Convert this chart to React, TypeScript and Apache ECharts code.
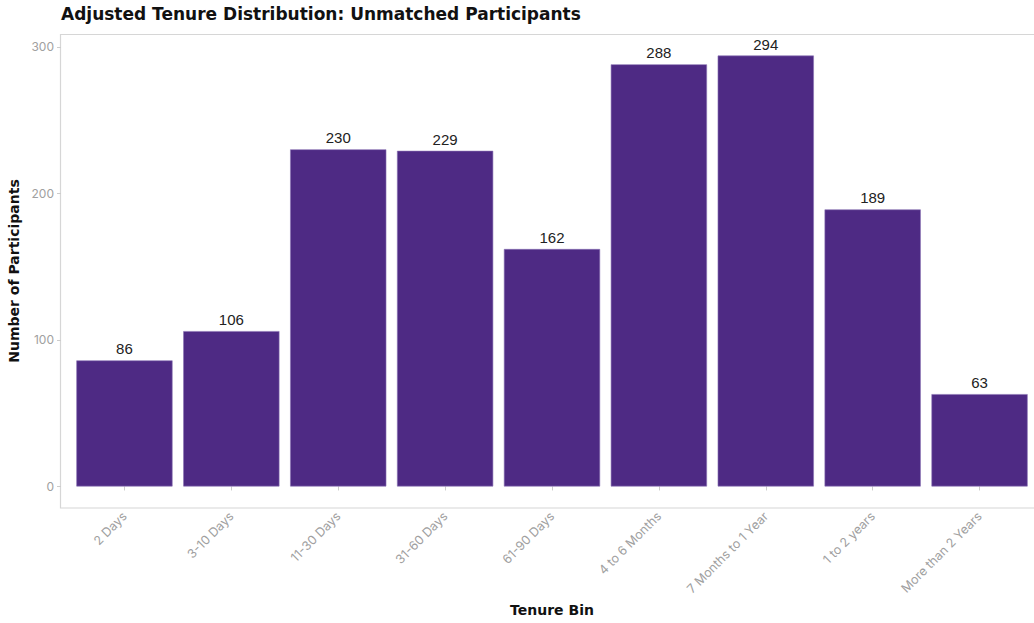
import React, { useEffect, useRef } from "react";
import * as echarts from "echarts";

const categories = [
  "2 Days",
  "3-10 Days",
  "11-30 Days",
  "31-60 Days",
  "61-90 Days",
  "4 to 6 Months",
  "7 Months to 1 Year",
  "1 to 2 years",
  "More than 2 Years",
];
const participants = [86, 106, 230, 229, 162, 288, 294, 189, 63];
const yTicks = [0, 100, 200, 300];

const TITLE = "Adjusted Tenure Distribution: Unmatched Participants";
const X_NAME = "Tenure Bin";
const Y_NAME = "Number of Participants";

export default function App() {
  const ref = useRef<HTMLDivElement>(null);
  useEffect(() => {
    document.body.style.margin = "0";
    if (!ref.current) return;
    const chart = echarts.init(ref.current, null, { renderer: "svg" });
    const yMin = -14.7;
    const yMax = 308.7;
    chart.setOption({
      animation: false,
      backgroundColor: "#ffffff",
      title: {
        text: TITLE,
        left: 61,
        top: 5,
        padding: 0,
        textStyle: {
          fontFamily: "DejaVu Sans",
          fontWeight: "bold",
          fontSize: 17,
          color: "#111111",
        },
      },
      graphic: [
        {
          type: "rect",
          shape: { x: 60.5, y: 34.5, width: 1000, height: 473.5 },
          style: { fill: "none", stroke: "#d6d6d6", lineWidth: 1.2 },
          silent: true,
          z: 0,
        },
      ],
      grid: {
        left: 71,
        top: 34,
        width: 962,
        height: 474,
        containLabel: false,
        outerBoundsMode: "none",
      },
      xAxis: {
        type: "category",
        data: categories,
        boundaryGap: true,
        axisLine: { show: false },
        axisTick: {
          show: true,
          alignWithLabel: true,
          length: 4,
          lineStyle: { color: "#cccccc" },
        },
        axisLabel: {
          rotate: 45,
          fontFamily: "Inter",
          fontSize: 12.5,
          color: "#a0a0a0",
          margin: 6,
          interval: 0,
        },
        name: X_NAME,
        nameLocation: "middle",
        nameGap: 95,
        nameTextStyle: {
          fontFamily: "DejaVu Sans",
          fontWeight: "bold",
          fontSize: 14,
          color: "#111111",
        },
      },
      yAxis: {
        type: "value",
        min: yMin,
        max: yMax,
        offset: 10,
        axisLine: { show: false },
        splitLine: { show: false },
        axisTick: {
          show: true,
          length: 4,
          lineStyle: { color: "#cccccc" },
          customValues: yTicks,
        },
        axisLabel: {
          fontFamily: "Inter",
          fontSize: 12,
          color: "#a0a0a0",
          margin: 7,
          customValues: yTicks,
        },
        name: Y_NAME,
        nameLocation: "middle",
        nameGap: 35,
        nameRotate: 90,
        nameTextStyle: {
          fontFamily: "DejaVu Sans",
          fontWeight: "bold",
          fontSize: 14,
          color: "#111111",
        },
      },
      series: [
        {
          type: "bar",
          data: participants,
          barCategoryGap: "10%",
          itemStyle: {
            color: "#4E2A84",
            borderColor: "#8a72b3",
            borderWidth: 0.6,
          },
          label: {
            show: true,
            position: "top",
            distance: 4,
            fontFamily: "Liberation Sans",
            fontSize: 15,
            color: "#222222",
          },
        },
      ],
    });
    return () => chart.dispose();
  }, []);
  return <div ref={ref} style={{ width: 1034, height: 623 }} />;
}
